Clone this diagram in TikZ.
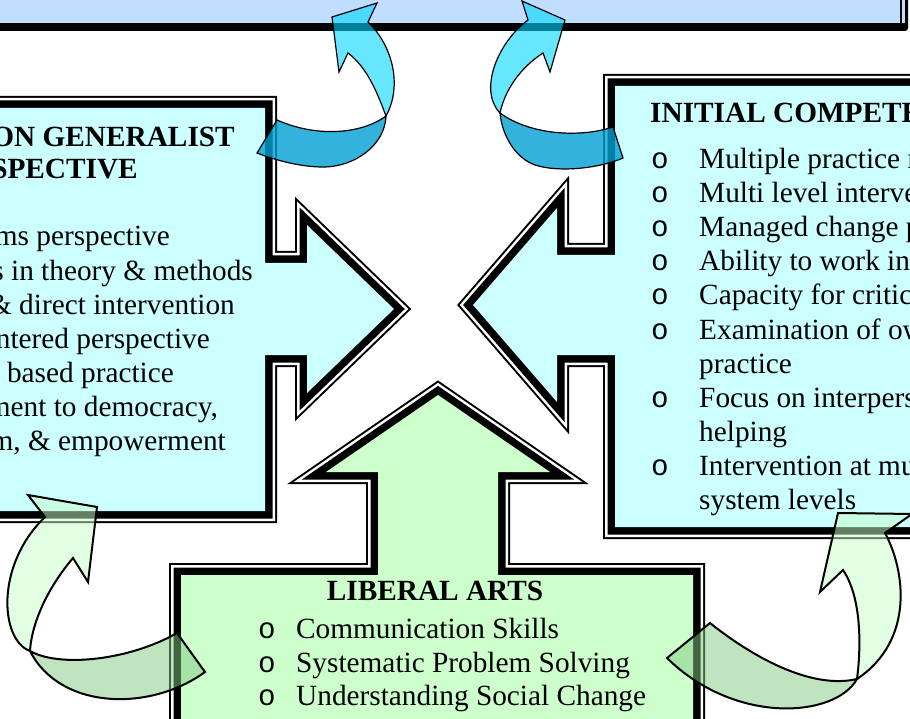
\documentclass[tikz,border=0pt]{standalone}
\usepackage{fontspec}
\setmainfont{Liberation Serif}
\newfontfamily\bulletfont{Liberation Mono}
\definecolor{topblue}{RGB}{192,222,255}
\definecolor{boxcyan}{RGB}{204,255,255}
\definecolor{boxgreen}{RGB}{204,255,204}
\definecolor{ribblue}{RGB}{0,214,255}
\definecolor{ribbluedark}{RGB}{0,160,210}
\definecolor{ribgreen}{RGB}{200,255,200}
\definecolor{ribgreendark}{RGB}{130,200,130}

\begin{document}
\begin{tikzpicture}[
  x=1pt, y=-1pt,
  font=\fontsize{29.3}{34}\selectfont,
  framed/.style={
    preaction={draw=black, line width=24pt},
    preaction={draw=white, line width=20pt},
    preaction={draw=black, line width=15pt},
  },
  item/.style={
    inner sep=0pt,
    anchor=base west,
  },
  itemr/.style={
    inner sep=0pt,
    anchor=base east,
  },
  heading/.style={
    inner sep=0pt,
    font=\fontsize{29.3}{34}\selectfont\bfseries,
  },
  bul/.style={
    inner sep=0pt,
    anchor=base,
    font=\bulletfont\fontsize{29.3}{34}\selectfont,
  },
  bluefront/.style={draw=black, line width=1.2pt, fill=ribblue, fill opacity=0.6},
  blueback/.style={draw=black, line width=1.2pt, fill=ribbluedark, fill opacity=0.8},
  greenfront/.style={draw=black, line width=2pt, fill=ribgreen, fill opacity=0.5},
  greenback/.style={draw=black, line width=2pt, fill=ribgreendark, fill opacity=0.5},
]
\useasboundingbox (0,0) rectangle (910,719);
\clip (0,0) rectangle (910,719);

% Top box
\fill[black, rounded corners=3pt] (-10,-10) rectangle (908,31);
\fill[topblue] (-10,-10) rectangle (905,23);
\fill[black] (900,-10) rectangle (902,23);
\fill[topblue] (-10,-10) rectangle (900,23);

% Arrow boxes
\path[framed, fill=boxcyan] (-20,108) -- (265,108) -- (265,263) -- (307,263) -- (307,225)
  -- (394,309) -- (307,393) -- (307,355) -- (265,355) -- (265,511) -- (-20,511) -- cycle;
\path[framed, fill=boxcyan] (930,86) -- (615,86) -- (615,255) -- (557,255) -- (557,208)
  -- (473,305) -- (557,402) -- (557,355) -- (615,355) -- (615,527) -- (930,527) -- cycle;
\path[framed, fill=boxgreen] (181,740) -- (181,575) -- (378,575) -- (378,472) -- (326,472)
  -- (438,395) -- (550,472) -- (498,472) -- (498,575) -- (693,575) -- (693,740) -- cycle;

% Left box text
\node[heading, anchor=base east] (gentitle1) at (235,147) {FOUNDATION GENERALIST};
\node[heading, anchor=base east] (gentitle2) at (138,179) {PERSPECTIVE};
\foreach \xr/\yb/\txt [count=\i] in {
  170/246/{Systems perspective},
  253/280/{Foundations in theory \& methods},
  235/314/{Indirect \& direct intervention},
  210/348/{Client centered perspective},
  174/382/{Evidence based practice},
  218/416/{Commitment to democracy,},
  226/450/{freedom, \& empowerment}} {
  \node[itemr] (gen\i) at (\xr,\yb) {\txt};
}

% Right box text
\node[heading, anchor=base west] (comptitle) at (650,123) {INITIAL COMPETENCIES};
\foreach \yb/\txt [count=\i] in {
  169/{Multiple practice roles},
  203/{Multi level intervention},
  237/{Managed change process},
  271/{Ability to work in organizations},
  305/{Capacity for critical thinking},
  339/{Examination of own values in},
  407/{Focus on interpersonal},
  475/{Intervention at multiple}} {
  \node[bul] (compbul\i) at (660,\yb) {o};
  \node[item] (comp\i) at (699,\yb) {\txt};
}
\node[item] (comp6b) at (699,373) {practice};
\node[item] (comp7b) at (699,441) {helping};
\node[item] (comp8b) at (699,509) {system levels};

% Bottom box text
\node[heading, anchor=base] (libtitle) at (435,600) {LIBERAL ARTS};
\foreach \yb/\txt [count=\i] in {
  638/{Communication Skills},
  672/{Systematic Problem Solving},
  705/{Understanding Social Change}} {
  \node[bul] (libbul\i) at (267,\yb) {o};
  \node[item] (lib\i) at (296,\yb) {\txt};
}

% Curved arrows, blue
\path[blueback] (257,153) -- (277,120) .. controls (315,137) and (360,135) .. (386,116)
  .. controls (385,145) and (355,167) .. (323,167) .. controls (300,167) and (275,160) .. (257,153) -- cycle;
\path[bluefront] (332,17) -- (377,3) -- (368,22) .. controls (392,45) and (403,85) .. (386,116)
  .. controls (378,95) and (368,68) .. (348,53) -- (339,72) -- cycle;
\path[blueback] (623,158) -- (613,127) .. controls (580,138) and (530,135) .. (500,113)
  .. controls (502,135) and (515,158) .. (535,165) .. controls (560,173) and (600,168) .. (623,158) -- cycle;
\path[bluefront] (565,20) -- (522,1) -- (528,20) .. controls (498,42) and (478,90) .. (500,113)
  .. controls (505,90) and (520,68) .. (543,53) -- (550,72) -- cycle;

% Curved arrows, green
\path[greenback] (30,651) .. controls (60,668) and (130,660) .. (177,633) -- (205,672)
  .. controls (150,712) and (60,710) .. (30,651) -- cycle;
\path[greenfront] (28,495) -- (97,507) -- (88,582) -- (73,558) .. controls (50,585) and (32,620) .. (30,651)
  .. controls (0,640) and (-5,565) .. (45,517) -- cycle;
\path[greenback] (857,679) .. controls (810,690) and (750,655) .. (710,623) -- (667,658)
  .. controls (735,725) and (835,718) .. (857,679) -- cycle;
\path[greenfront] (838,513) -- (912,514) -- (885,533) .. controls (905,570) and (915,640) .. (857,679)
  .. controls (862,640) and (860,595) .. (843,570) -- (820,592) -- cycle;

\end{tikzpicture}
\end{document}
